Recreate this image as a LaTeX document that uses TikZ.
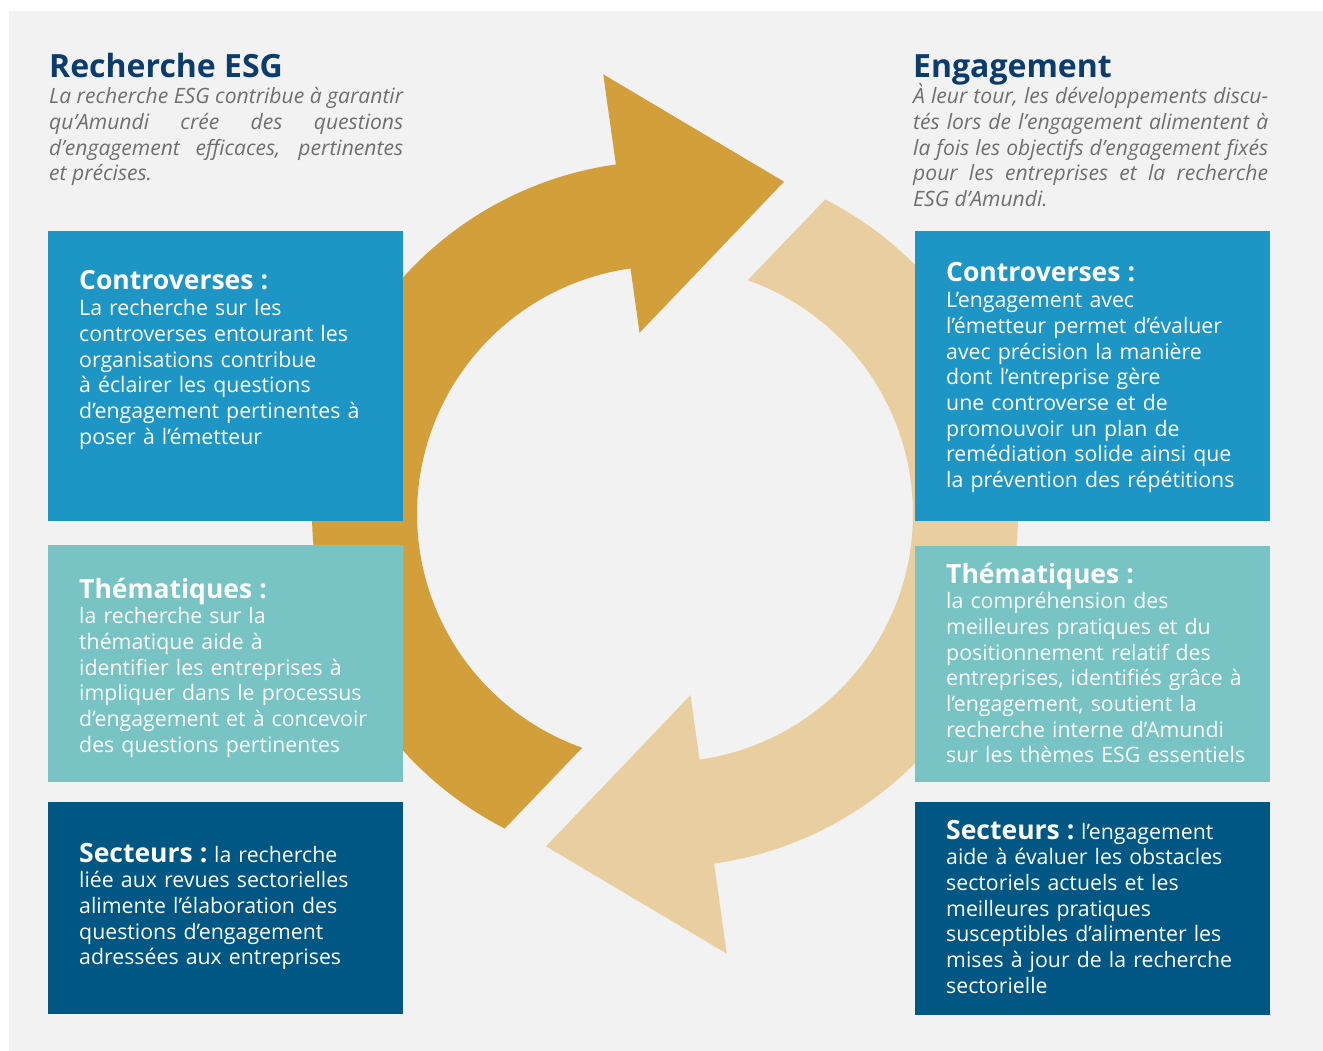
\documentclass[tikz,border=0pt]{standalone}
\usepackage{fontspec}
\IfFontExistsTF{NotoSans-Bold.ttf}
  {\setmainfont{NotoSans}[Extension=.ttf, UprightFont=*-Regular,
     BoldFont=*-Bold, ItalicFont=*-Italic]}
  {\IfFontExistsTF{Noto Sans Bold}
     {\setmainfont{Noto Sans}[BoldFont={Noto Sans Bold}]}
     {\setmainfont{Open Sans}}}
\definecolor{bggray}{HTML}{F2F2F2}
\definecolor{gold}{HTML}{D29F3B}
\definecolor{sand}{HTML}{E9CFA0}
\definecolor{ctrblue}{HTML}{1E96C5}
\definecolor{themteal}{HTML}{78C3C4}
\definecolor{secnavy}{HTML}{005783}
\definecolor{titlenavy}{HTML}{0B3C6B}
\definecolor{introgray}{HTML}{6F6F6F}
\newcommand\bodyfont{\fontsize{21.3}{25.7}\selectfont}
\newcommand\headfont{\fontsize{26.5}{26}\selectfont\bfseries}
\newcommand\titlefont{\fontsize{32}{32}\selectfont\bfseries}
\newcommand\introfont{\fontsize{21.1}{25.8}\selectfont\itshape}
\begin{document}
\begin{tikzpicture}[x=1pt,y=-1pt,
  panel/.style={rectangle, inner sep=0pt, anchor=north west, minimum width=355pt},
  blurb/.style={anchor=base west, inner sep=0pt, text width=345pt, align=left,
    text=white, font=\bodyfont},
  title/.style={anchor=base west, inner sep=0pt, font=\titlefont, text=titlenavy},
  intro/.style={anchor=base west, inner sep=0pt, text width=354pt, align=justify,
    font=\introfont, text=introgray}]
\fill[white] (0,0) rectangle (1323,1051);
\fill[bggray] (9,11) rectangle (1323,1051);
\useasboundingbox (0,0) rectangle (1323,1051);

% cycle of the two arrows
\coordinate (ctr) at (665,514);
\begin{scope}[shift={(ctr)}]
\fill[gold] plot[domain=117:262,samples=90] (\x:353) -- (262:444) -- (289.7:353)
  -- (262:183) -- (262:248) -- plot[domain=262:109.5,samples=90] (\x:248) -- cycle;
\fill[sand] plot[domain=297:442,samples=90] (\x:353) -- (442:444) -- (469.7:353)
  -- (442:183) -- (442:248) -- plot[domain=442:289.5,samples=90] (\x:248) -- cycle;
\end{scope}

% titles
\node[title] (ltitle) at (49,78) {Recherche ESG};
\node[intro] (lintro) at (49,103.5) {La recherche ESG contribue à garantir\linebreak
  qu’Amundi crée des questions\linebreak
  d’engagement efficaces, pertinentes\linebreak
  et précises.};
\node[title] (rtitle) at (913,78) {Engagement};
\node[intro, text width=355pt] (rintro) at (913,103.5) {À leur tour, les développements discu-\linebreak
  tés lors de l’engagement alimentent à\linebreak
  la fois les objectifs d’engagement fixés\linebreak
  pour les entreprises et la recherche\linebreak
  ESG d’Amundi.};

% left panels
\node[panel, fill=ctrblue, minimum height=290pt] (lctr) at (48,231) {};
\node[panel, fill=themteal, minimum height=237pt] (lthem) at (48,545) {};
\node[panel, fill=secnavy, minimum height=212pt] (lsec) at (48,802) {};
\node[blurb] (lctrtxt) at (79,290) {{\headfont Controverses :}\\
  La recherche sur les\\
  controverses entourant les\\
  organisations contribue\\
  à éclairer les questions\\
  d’engagement pertinentes à\\
  poser à l’émetteur};
\node[blurb] (lthemtxt) at (79,598) {{\headfont Thématiques :}\\
  la recherche sur la\\
  thématique aide à\\
  identifier les entreprises à\\
  impliquer dans le processus\\
  d’engagement et à concevoir\\
  des questions pertinentes};
\node[blurb] (lsectxt) at (79,862) {{\headfont Secteurs :}\hspace{-4pt} la recherche\\
  liée aux revues sectorielles\\
  alimente l’élaboration des\\
  questions d’engagement\\
  adressées aux entreprises};

% right panels
\node[panel, fill=ctrblue, minimum height=290pt] (rctr) at (915,231) {};
\node[panel, fill=themteal, minimum height=236pt] (rthem) at (915,546) {};
\node[panel, fill=secnavy, minimum height=213pt] (rsec) at (915,802) {};
\node[blurb] (rctrtxt) at (946,282) {{\headfont Controverses :}\\
  L’engagement avec\\
  l’émetteur permet d’évaluer\\
  avec précision la manière\\
  dont l’entreprise gère\\
  une controverse et de\\
  promouvoir un plan de\\
  remédiation solide ainsi que\\
  la prévention des répétitions};
\node[blurb] (rthemtxt) at (946,583) {{\headfont Thématiques :}\\
  la compréhension des\\
  meilleures pratiques et du\\
  positionnement relatif des\\
  entreprises, identifiés grâce à\\
  l’engagement, soutient la\\
  recherche interne d’Amundi\\
  sur les thèmes ESG essentiels};
\node[blurb] (rsectxt) at (946,839) {{\headfont Secteurs :}\hspace{-4pt} l’engagement\\
  aide à évaluer les obstacles\\
  sectoriels actuels et les\\
  meilleures pratiques\\
  susceptibles d’alimenter les\\
  mises à jour de la recherche\\
  sectorielle};
\end{tikzpicture}
\end{document}
